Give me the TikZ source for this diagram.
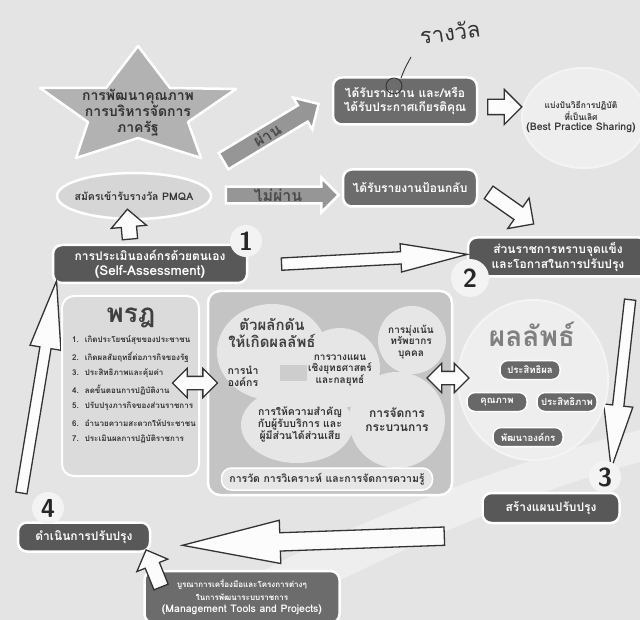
\documentclass[tikz,border=0pt]{standalone}
\usepackage{fontspec}
\newfontfamily\thai[Script=Thai]{Loma}
\usetikzlibrary{shapes.arrows, shapes.geometric, positioning, calc}
\definecolor{bgcol}{RGB}{228,228,228}
\definecolor{boxdark}{RGB}{88,88,88}
\definecolor{boxgrey}{RGB}{108,108,108}
\definecolor{pillgrey}{RGB}{104,104,104}
\definecolor{arrowgrey}{RGB}{150,150,150}
\definecolor{stargrey}{RGB}{178,178,178}
\definecolor{panelgrey}{RGB}{196,196,196}
\definecolor{cloudgrey}{RGB}{230,230,230}
\definecolor{paleinside}{RGB}{238,238,238}
\definecolor{paleedge}{RGB}{244,244,244}
\definecolor{ovalgrey}{RGB}{214,214,214}
\definecolor{leftpanel}{RGB}{219,219,219}
\definecolor{blurgrey}{RGB}{205,205,205}
\definecolor{titlegrey}{RGB}{128,128,128}
\definecolor{swoosh}{RGB}{238,238,238}
\tikzset{%
	halo/.style={draw=white, line width=2.5pt},
	darkbox/.style={halo, rectangle, rounded corners=9pt, fill=boxdark, text=white,
		align=center, inner sep=1pt, font=\thai\bfseries\fontsize{12}{14.5}\selectfont},
	greybox/.style={darkbox, fill=boxgrey},
	pill/.style={halo, line width=1.5pt, rectangle, rounded corners=8pt, fill=pillgrey,
		text=white, minimum height=19pt, inner sep=1pt, font=\thai\bfseries\fontsize{9.5}{10}\selectfont},
	stepno/.style={circle, fill=white!55!bgcol, text=black!85, inner sep=0pt,
		minimum size=32pt, font=\sffamily\bfseries\fontsize{26}{26}\selectfont},
	hollow/.style={single arrow, draw=black!80, line width=1.3pt, fill=white!90!bgcol,
		inner xsep=0pt, minimum width=0pt, single arrow head indent=0pt},
	hollowtwo/.style={double arrow, draw=black!80, line width=1.3pt, fill=white!90!bgcol,
		inner xsep=0pt, minimum width=0pt},
	blockarrow/.style={single arrow, halo, fill=arrowgrey, text=black!70, inner xsep=0pt,
		minimum width=0pt, font=\thai\bfseries\fontsize{16}{16}\selectfont},
	blurb/.style={align=center, text=black!80, font=\thai\bfseries\fontsize{10}{11.5}\selectfont},
	listitem/.style={anchor=west, text=black!80, inner sep=0pt, font=\thai\bfseries\fontsize{8}{9}\selectfont}
}
\begin{document}
\begin{tikzpicture}[x=1pt, y=-1pt]
	\useasboundingbox (0,0) rectangle (640,620);
	\fill[bgcol] (0,0) rectangle (640,620);
	\fill[swoosh] (170,620) .. controls (330,530) and (480,470) .. (640,430) -- (640,462) .. controls (500,500) and (380,560) .. (260,620) -- cycle;

	% star and award path
	\draw[halo, fill=stargrey, line join=round] (138,46) -- (170,88) -- (236,89) -- (188,122) -- (201,158)
		-- (138,138) -- (76,158) -- (88,122) -- (40,88) -- (106,88) -- cycle;
	\node[blurb, font=\thai\bfseries\fontsize{14}{16}\selectfont] (star) at (138,113) {การพัฒนาคุณภาพ\\การบริหารจัดการ\\ภาครัฐ};
	\draw[halo, fill=ovalgrey] (134,196) ellipse [x radius=77pt, y radius=23pt];
	\node[blurb, font=\thai\bfseries\fontsize{10.5}{12}\selectfont] (pmqa) at (134,196) {สมัครเข้ารับรางวัล PMQA};

	\node[blockarrow, rotate=31, minimum height=111pt, inner ysep=2pt, single arrow head extend=9pt] (pass) at (267,135) {ผ่าน\hspace{14pt}};
	\node[blockarrow, minimum height=113pt, inner ysep=1pt, single arrow head extend=9pt] (fail) at (278,195) {ไม่ผ่าน\hspace{16pt}};

	\node[greybox, minimum width=144pt, minimum height=47pt] (award) at (405,101) {ได้รับรายงาน และ/หรือ\\ได้รับประกาศเกียรติคุณ};
	\node[greybox, minimum width=134pt, minimum height=37pt] (feedback) at (410,188) {ได้รับรายงานป้อนกลับ};

	% handwritten note
	\node[text=black!80, rotate=8, font=\thai\fontsize{22}{22}\selectfont] (note) at (450,32) {รางวัล};
	\draw[black!80, line width=0.9pt] (411,57) .. controls (405,68) .. (401,78);
	\draw[black!80, line width=0.9pt] (394,86) circle (8pt);

	\draw[draw=paleedge, line width=2pt, fill=paleinside] (584,118) ellipse [x radius=62pt, y radius=50pt];
	\node[blurb, font=\thai\bfseries\fontsize{8.5}{10.5}\selectfont] (share) at (581,117)
		{แบ่งปันวิธีการปฏิบัติ\\ที่เป็นเลิศ\\{\fontsize{10.5}{12}\selectfont(Best Practice Sharing)}};
	\node[hollow, minimum height=34pt, inner ysep=7pt, single arrow head extend=10pt] (toshare) at (501,107) {};
	\node[hollow, rotate=-35, minimum height=55pt, inner ysep=7pt, single arrow head extend=11pt] (tostrong) at (508,206) {};

	% the four steps
	\node[darkbox, minimum width=194pt, minimum height=38pt] (assess) at (150,264)
		{การประเมินองค์กรด้วยตนเอง\\{\fontsize{13.5}{15}\selectfont(Self-Assessment)}};
	\node[stepno] (n1) at (246,241) {1};
	\node[hollow, rotate=95, minimum height=30pt, inner ysep=7pt, single arrow head extend=10pt] (toapply) at (129,228) {};

	\node[darkbox, minimum width=180pt, minimum height=39pt] (strong) at (558,257) {ส่วนราชการทราบจุดแข็ง\\และโอกาสในการปรับปรุง};
	\node[stepno, minimum size=38pt] (n2) at (470,278) {2};
	\node[hollow, rotate=3, minimum height=186pt, inner ysep=5.5pt, single arrow head extend=8pt, single arrow tip angle=24] (tostrongb) at (360,260) {};

	\node[hollow, rotate=-96.4, minimum height=170pt, inner ysep=5pt, single arrow head extend=9pt, single arrow tip angle=26] (toplan) at (622,372) {};
	\node[darkbox, minimum width=137pt, minimum height=30pt] (plan) at (551,508) {สร้างแผนปรับปรุง};
	\node[stepno] (n3) at (605,477) {3};

	\node[hollow, rotate=182, minimum height=262pt, inner ysep=8.5pt, single arrow head extend=12.5pt, single arrow tip angle=25] (todo) at (334,540) {};
	\node[darkbox, minimum width=132pt, minimum height=29pt] (improve) at (84,537) {ดำเนินการปรับปรุง};
	\node[stepno] (n4) at (48,508) {4};

	\node[greybox, minimum width=195pt, minimum height=52pt, font=\thai\bfseries\fontsize{8}{12.5}\selectfont] (tools) at (242,597)
		{บูรณาการเครื่องมือและโครงการต่างๆ\\ในการพัฒนาระบบราชการ\\{\fontsize{10.5}{12}\selectfont(Management Tools and Projects)}};
	\node[hollow, rotate=112, minimum height=40pt, inner ysep=7pt, single arrow head extend=9pt] (totools) at (155,572) {};

	\node[hollow, rotate=80.6, minimum height=215pt, inner ysep=5pt, single arrow head extend=10pt, single arrow tip angle=26] (toassess) at (37,399) {};

	% left panel
	\draw[halo, line width=2pt, fill=leftpanel, rounded corners=12pt] (62,296) rectangle (199,476);
	\node[text=black!75, font=\thai\bfseries\fontsize{26}{26}\selectfont] (decree) at (131,318) {พรฎ};
	\foreach \txt [count=\i] in {เกิดประโยชน์สุขของประชาชน, เกิดผลสัมฤทธิ์ต่อภารกิจของรัฐ, ประสิทธิภาพและคุ้มค่า,
		ลดขั้นตอนการปฏิบัติงาน, ปรับปรุงภารกิจของส่วนราชการ, อำนวยความสะดวกให้ประชาชน, ประเมินผลการปฏิบัติราชการ}
		\node[listitem] (item\i) at (72,324+16.5*\i) {\i.\hspace{6pt}\txt};

	% drivers panel
	\draw[halo, fill=panelgrey, rounded corners=12pt] (208,291) rectangle (452,495);
	\fill[cloudgrey] (272,352) ellipse [x radius=55pt, y radius=48pt];
	\fill[cloudgrey] (340,368) circle (40pt);
	\fill[cloudgrey] (412,340) circle (34pt);
	\fill[cloudgrey] (297,425) ellipse [x radius=56pt, y radius=38pt];
	\fill[cloudgrey] (397,420) circle (48pt);
	\fill[blurgrey] (280,365) rectangle (307,381);
	\node[blurb, text=black!75, font=\thai\bfseries\fontsize{15}{17}\selectfont] (drivers) at (272,333) {ตัวผลักดัน\\ให้เกิดผลลัพธ์};
	\node[blurb, font=\thai\bfseries\fontsize{10.5}{12}\selectfont] (lead) at (243,376) {การนำ\\องค์กร};
	\node[blurb] (strategy) at (340,370) {การวางแผน\\เชิงยุทธศาสตร์\\และกลยุทธ์};
	\node[blurb] (people) at (411,342) {การมุ่งเน้น\\ทรัพยากร\\บุคคล};
	\node[blurb, font=\thai\bfseries\fontsize{10.5}{12}\selectfont] (customer) at (300,424) {การให้ความสำคัญ\\กับผู้รับบริการ และ\\ผู้มีส่วนได้ส่วนเสีย};
	\node[blurb, font=\thai\bfseries\fontsize{12}{14}\selectfont] (process) at (397,420) {การจัดการ\\กระบวนการ};
	\node[halo, line width=1.5pt, rectangle, rounded corners=10pt, fill=cloudgrey, minimum width=211pt, minimum height=22pt,
		blurb, font=\thai\bfseries\fontsize{10.5}{12}\selectfont] (measure) at (327,479) {การวัด การวิเคราะห์ และการจัดการความรู้};

	% results
	\draw[draw=paleedge, line width=2pt, fill=paleinside] (533,380) ellipse [x radius=75pt, y radius=80pt];
	\node[text=titlegrey, font=\thai\bfseries\fontsize{28}{28}\selectfont] (results) at (532,334) {ผลลัพธ์};
	\node[pill, minimum width=60pt] (effect) at (530,370) {ประสิทธิผล};
	\node[pill, minimum width=60pt] (quality) at (497,402) {คุณภาพ};
	\node[pill, minimum width=60pt] (efficiency) at (567,402) {ประสิทธิภาพ};
	\node[pill, minimum width=70pt] (develop) at (528,437) {พัฒนาองค์กร};

	% links between the panels
	\node[hollowtwo, minimum height=45pt, inner ysep=6pt, double arrow head extend=8pt] (leftlink) at (195,383) {};
	\node[hollowtwo, minimum height=42pt, inner ysep=6pt, double arrow head extend=8pt] (rightlink) at (448,378) {};
\end{tikzpicture}
\end{document}
